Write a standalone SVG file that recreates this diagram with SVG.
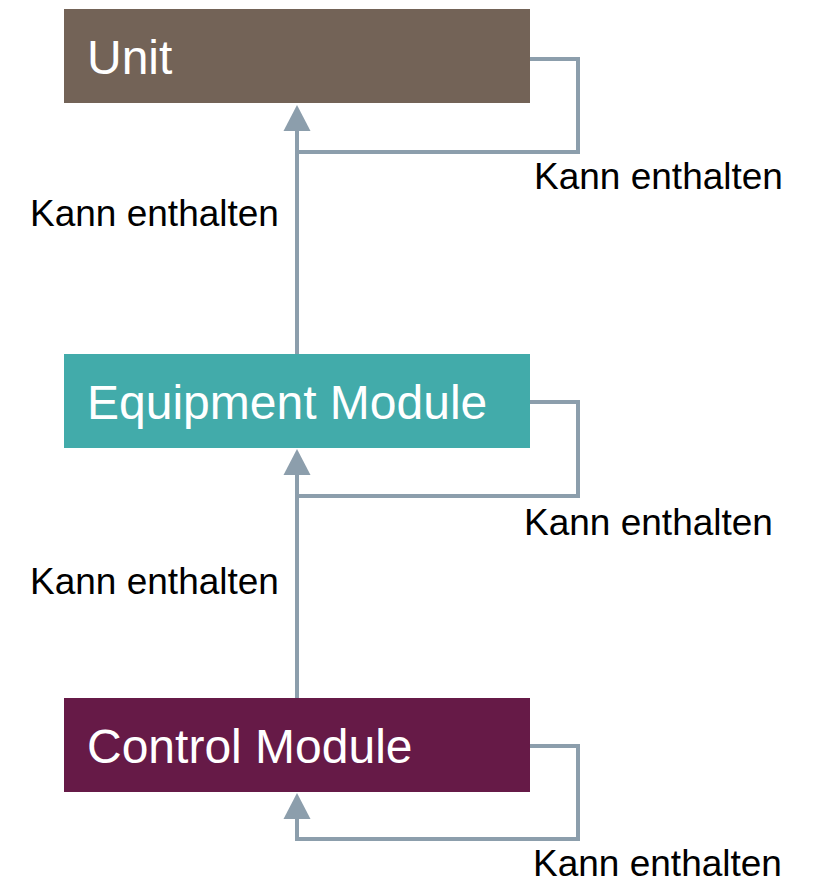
<svg xmlns="http://www.w3.org/2000/svg" width="813" height="882" viewBox="0 0 813 882">
  <style>
    .box-text { font-family: "Liberation Sans", Arial, sans-serif; font-size: 48px; fill: #ffffff; }
    .label { font-family: "Liberation Sans", Arial, sans-serif; font-size: 37px; fill: #000000; }
    .conn { fill: none; stroke: #8C9EAC; stroke-width: 4; }
  </style>
  <defs>
    <marker id="arrow" markerUnits="userSpaceOnUse" markerWidth="27" markerHeight="28" refX="0" refY="13.5" orient="auto" viewBox="0 0 27 27">
      <path d="M0,0 L26,13.5 L0,27 z" fill="#8C9EAC"/>
    </marker>
  </defs>
  <rect width="813" height="882" fill="#ffffff"/>

  <g id="connectors">
    <!-- Unit self-containment loop -->
    <path class="conn" d="M530,59 H578 V152 H297"/>
    <!-- Equipment Module -> Unit -->
    <path class="conn" d="M297,354 V131" marker-end="url(#arrow)"/>
    <!-- Equipment Module self-containment loop -->
    <path class="conn" d="M530,402 H578 V496 H297"/>
    <!-- Control Module -> Equipment Module -->
    <path class="conn" d="M297,698 V475" marker-end="url(#arrow)"/>
    <!-- Control Module self-containment loop -->
    <path class="conn" d="M530,746 H578 V839 H297 V819" marker-end="url(#arrow)"/>
  </g>

  <g id="unit">
    <rect x="64" y="9" width="466" height="94" fill="#736357"/>
    <text class="box-text" x="87" y="74">Unit</text>
  </g>

  <g id="equipment-module">
    <rect x="64" y="354" width="466" height="94" fill="#42ABAA"/>
    <text class="box-text" x="87" y="419">Equipment Module</text>
  </g>

  <g id="control-module">
    <rect x="64" y="698" width="466" height="94" fill="#661A47"/>
    <text class="box-text" x="87" y="763">Control Module</text>
  </g>

  <g id="labels">
    <text class="label" x="534" y="189">Kann enthalten</text>
    <text class="label" x="30" y="226">Kann enthalten</text>
    <text class="label" x="524" y="535">Kann enthalten</text>
    <text class="label" x="30" y="594">Kann enthalten</text>
    <text class="label" x="533" y="876">Kann enthalten</text>
  </g>
</svg>
